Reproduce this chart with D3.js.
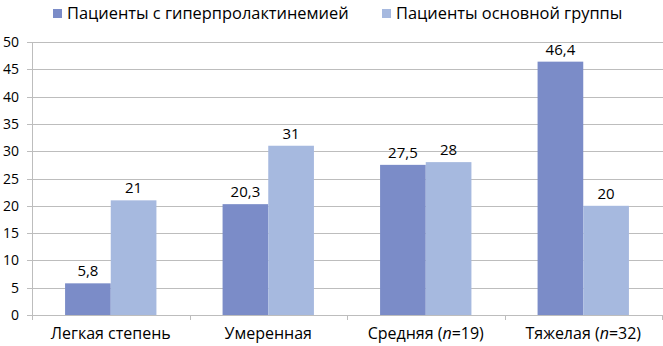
<!DOCTYPE html>
<html>
<head>
<meta charset="utf-8">
<script src="https://cdn.jsdelivr.net/npm/d3@7"></script>
<style>
  body { margin: 0; background: #fff; }
  text { font-family: "Open Sans", "Noto Sans", sans-serif; fill: #000; }
</style>
</head>
<body>
<svg id="chart"></svg>
<script>
const categories = ["Легкая степень", "Умеренная", "Средняя (n=19)", "Тяжелая (n=32)"];
const seriesNames = ["Пациенты с гиперпролактинемией", "Пациенты основной группы"];
const hyperValues = [5.8, 20.3, 27.5, 46.4];
const mainValues = [21, 31, 28, 20];
const valueLabels = [["5,8", "20,3", "27,5", "46,4"], ["21", "31", "28", "20"]];
const yTicks = [0, 5, 10, 15, 20, 25, 30, 35, 40, 45, 50];
const colors = ["#7B8CC8", "#A6B9DF"];

const WIDTH = 663;
const HEIGHT = 346;
const svg = d3.select("#chart").attr("width", WIDTH).attr("height", HEIGHT);

const LEFT = 32;
const RIGHT = 662;
const TOP = 42;
const BOTTOM = 315;

const x = d3.scaleBand(categories, [LEFT, RIGHT]).paddingInner(0.42).paddingOuter(0.21);
const xSeries = d3.scaleBand([0, 1], [0, x.bandwidth()]);
const y = d3.scaleLinear([0, 50], [BOTTOM, TOP]);

// gridlines
svg.append("g")
	.selectAll("line")
	.data(yTicks)
	.join("line")
	.attr("x1", LEFT - 5)
	.attr("x2", WIDTH)
	.attr("y1", d => Math.round(y(d)) + 0.5)
	.attr("y2", d => Math.round(y(d)) + 0.5)
	.attr("stroke", "#BDBDBD")
	.attr("stroke-width", 1);

// y axis line
svg.append("line")
	.attr("x1", LEFT + 0.5).attr("x2", LEFT + 0.5)
	.attr("y1", TOP).attr("y2", BOTTOM + 5)
	.attr("stroke", "#BDBDBD");

// x axis category ticks
const step = x.step();
const bounds = d3.range(categories.length + 1).map(i => LEFT + i * step);
svg.append("g")
	.selectAll("line")
	.data(bounds)
	.join("line")
	.attr("x1", d => Math.round(d) + 0.5)
	.attr("x2", d => Math.round(d) + 0.5)
	.attr("y1", BOTTOM)
	.attr("y2", BOTTOM + 5)
	.attr("stroke", "#BDBDBD");

// y labels
svg.append("g")
	.selectAll("text")
	.data(yTicks)
	.join("text")
	.attr("x", 19)
	.attr("y", d => y(d) + 5)
	.attr("text-anchor", "end")
	.attr("font-size", 14)
	.text(d => d);

// bars
const series = [hyperValues, mainValues];
series.forEach((vals, s) => {
	const g = svg.append("g");
	g.selectAll("rect")
		.data(vals)
		.join("rect")
		.attr("x", (d, i) => x(categories[i]) + xSeries(s))
		.attr("width", xSeries.bandwidth())
		.attr("y", d => y(d))
		.attr("height", d => BOTTOM - y(d))
		.attr("fill", colors[s]);
	g.selectAll("text")
		.data(vals)
		.join("text")
		.attr("x", (d, i) => x(categories[i]) + xSeries(s) + xSeries.bandwidth() / 2)
		.attr("y", d => y(d) - 7)
		.attr("text-anchor", "middle")
		.attr("font-size", 15)
		.text((d, i) => valueLabels[s][i]);
});

// category labels (with italic n)
const catText = svg.append("g")
	.selectAll("text")
	.data(categories)
	.join("text")
	.attr("x", d => x(d) + x.bandwidth() / 2)
	.attr("y", 339)
	.attr("text-anchor", "middle")
	.attr("font-size", 16);
catText.each(function (d) {
	const t = d3.select(this);
	const m = d.match(/^(.*\()n(=.*)$/);
	if (m) {
		t.append("tspan").text(m[1]);
		t.append("tspan").attr("font-style", "italic").text("n");
		t.append("tspan").text(m[2]);
	} else {
		t.text(d);
	}
});

// legend
const legendX = [53, 382];
const legend = svg.append("g")
	.selectAll("g")
	.data(seriesNames)
	.join("g")
	.attr("transform", (d, i) => `translate(${legendX[i]},0)`);
legend.append("rect")
	.attr("x", 0).attr("y", 9)
	.attr("width", 9).attr("height", 9)
	.attr("fill", (d, i) => colors[i]);
legend.append("text")
	.attr("x", 14)
	.attr("y", 19)
	.attr("font-size", 16.4)
	.text(d => d);
</script>
</body>
</html>
